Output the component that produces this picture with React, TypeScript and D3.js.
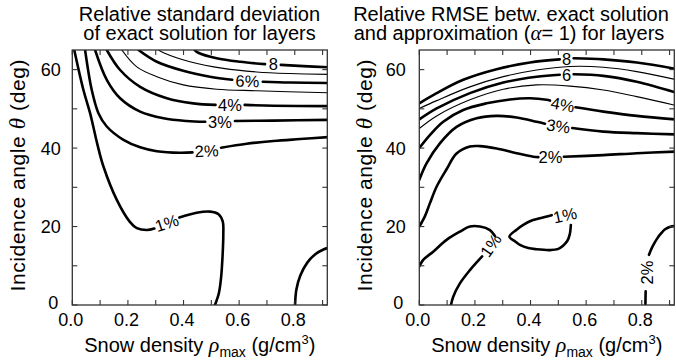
import React from "react";
import * as d3 from "d3";

type Pt = [number, number];

// ---- axes ----
const X_MAX = 0.917;
const Y_MAX = 65;
const xTickValues = [0, 0.1, 0.2, 0.3, 0.4, 0.5, 0.6, 0.7, 0.8, 0.9];
const xLabelValues = [0, 0.2, 0.4, 0.6, 0.8];
const yTickValues = [0, 10, 20, 30, 40, 50, 60];
const yLabelValues = [0, 20, 40, 60];

// ---- left panel contours [rho, theta] ----
const left1a: Pt[] = [[0.007, 65], [0.04, 54.8], [0.064, 48.9], [0.09, 41], [0.112, 35.3], [0.16, 26.8], [0.207, 21.2], [0.232, 19.6], [0.268, 19.1], [0.295, 19.5]];
const left1b: Pt[] = [[0.385, 22.3], [0.447, 23.5], [0.495, 23.8], [0.525, 23.2], [0.541, 21.3], [0.543, 18], [0.54, 12], [0.535, 7], [0.527, 3], [0.513, 0]];
const left1c: Pt[] = [[0.801, 0], [0.806, 4], [0.82, 7.5], [0.845, 10.8], [0.875, 13], [0.905, 14.2], [0.92, 14.6]];
const left2a: Pt[] = [[0.046, 65], [0.07, 54.8], [0.094, 48.9], [0.124, 45.5], [0.184, 42.1], [0.244, 40.2], [0.304, 39.2], [0.387, 38.8], [0.432, 38.9]];
const left2b: Pt[] = [[0.535, 40.1], [0.627, 41.1], [0.723, 41.8], [0.819, 42.3], [0.92, 42.8]];
const left3a: Pt[] = [[0.082, 65], [0.124, 57.4], [0.172, 52.7], [0.244, 49.3], [0.328, 47.6], [0.411, 46.9], [0.478, 46.7]];
const left3b: Pt[] = [[0.585, 46.9], [0.723, 47.0], [0.92, 47.2]];
const left4a: Pt[] = [[0.124, 65], [0.172, 59.9], [0.244, 55.6], [0.34, 52.7], [0.435, 51.4], [0.515, 51.0]];
const left4b: Pt[] = [[0.62, 51.0], [0.723, 50.8], [0.92, 50.7]];
const left5: Pt[] = [[0.178, 65], [0.232, 60.7], [0.304, 58.2], [0.399, 56.1], [0.519, 55.0], [0.663, 54.6], [0.92, 54.1]];
const left6a: Pt[] = [[0.238, 65], [0.304, 62.0], [0.399, 59.7], [0.495, 58.2], [0.575, 57.4]];
const left6b: Pt[] = [[0.685, 56.9], [0.783, 56.7], [0.92, 56.6]];
const left7: Pt[] = [[0.31, 65], [0.328, 64.3], [0.423, 62.0], [0.543, 60.3], [0.663, 59.4], [0.783, 59.0], [0.92, 58.8]];
const left8a: Pt[] = [[0.44, 65], [0.453, 64.3], [0.519, 62.9], [0.603, 62.0], [0.693, 61.4]];
const left8b: Pt[] = [[0.75, 61.2], [0.831, 60.9], [0.92, 60.6]];

// ---- right panel contours [rho, theta] ----
const right1a: Pt[] = [[0, 9.8], [0.014, 11.5], [0.05, 13.6], [0.098, 16.6], [0.146, 18.7], [0.182, 20.0], [0.218, 20.0], [0.254, 19.1], [0.272, 17.6]];
const right1b: Pt[] = [[0.226, 12.4], [0.182, 8.9], [0.146, 5.5], [0.122, 2.1], [0.114, 0]];
const right1loop: Pt[] = [[0.476, 22.9], [0.434, 22.1], [0.4, 21.4], [0.374, 20.4], [0.35, 19.2], [0.324, 17.4], [0.345, 16.2], [0.362, 15.3], [0.392, 14.5], [0.422, 14.2], [0.47, 14.0], [0.5, 14.3], [0.515, 15.0], [0.532, 16.3], [0.541, 18.0], [0.545, 20.4]];
const right2a: Pt[] = [[0, 20], [0.02, 22.6], [0.038, 25.9], [0.0625, 30.2], [0.098, 34.6], [0.134, 38.6], [0.182, 40.4], [0.218, 40.5], [0.278, 39.9], [0.35, 38.7], [0.41, 37.8], [0.428, 37.7]];
const right2b: Pt[] = [[0.52, 37.8], [0.662, 38.2], [0.782, 38.7], [0.92, 39.1]];
const right2c: Pt[] = [[0.813, 0], [0.814, 3.5]];
const right2d: Pt[] = [[0.826, 12.8], [0.838, 14.8], [0.854, 16.8], [0.87, 18.3], [0.884, 19.3], [0.9, 19.9], [0.92, 20.1]];
const right3a: Pt[] = [[0, 31.9], [0.026, 36.1], [0.074, 41.2], [0.134, 45.4], [0.206, 47.6], [0.278, 48.2], [0.35, 47.8], [0.422, 46.7], [0.452, 46.2]];
const right3b: Pt[] = [[0.55, 45.1], [0.662, 44.2], [0.782, 43.8], [0.92, 43.5]];
const right4a: Pt[] = [[0, 40.0], [0.038, 43.3], [0.086, 46.7], [0.158, 49.7], [0.242, 51.4], [0.326, 52.4], [0.398, 52.7], [0.458, 52.3], [0.47, 52.1]];
const right4b: Pt[] = [[0.562, 50.4], [0.662, 49.3], [0.782, 48.2], [0.92, 47.3]];
const right5: Pt[] = [[0, 45.0], [0.0625, 48.2], [0.182, 52.3], [0.302, 55.0], [0.422, 56.1], [0.542, 55.8], [0.662, 54.8], [0.782, 53.1], [0.92, 50.9]];
const right6a: Pt[] = [[0, 47.3], [0.0625, 50.1], [0.182, 54.0], [0.302, 56.7], [0.422, 58.2], [0.505, 58.7]];
const right6b: Pt[] = [[0.555, 58.8], [0.662, 58.4], [0.782, 56.9], [0.92, 54.2]];
const right7: Pt[] = [[0, 50.1], [0.0625, 52.1], [0.182, 55.6], [0.302, 58.2], [0.422, 59.9], [0.542, 60.8], [0.662, 60.6], [0.782, 59.5], [0.92, 57.5]];
const right8a: Pt[] = [[0, 51.4], [0.0625, 54.0], [0.158, 57.4], [0.278, 60.1], [0.398, 61.8], [0.505, 62.6]];
const right8b: Pt[] = [[0.555, 62.9], [0.662, 62.6], [0.782, 61.8], [0.92, 60.2]];

// ---- contour labels [text, rho, theta] ----
const leftLabelText = ["8", "6%", "4%", "3%", "2%", "1%"];
const leftLabelPos: Pt[] = [[0.723, 61.4], [0.63, 57.1], [0.567, 51.0], [0.531, 46.7], [0.483, 39.3], [0.34, 20.9]];
const rightLabelText = ["8", "6", "4%", "3%", "2%", "1%", "1%", "2%"];
const rightLabelPos: Pt[] = [[0.53, 62.7], [0.53, 58.7], [0.516, 51.1], [0.5, 45.6], [0.472, 37.6], [0.257, 15.2], [0.524, 22.9], [0.818, 8.3]];

type Seg = { pts: Pt[]; thick: boolean };
type Lab = { text: string; pos: Pt; rot: number };

const leftSegs: Seg[] = [
  { pts: left1a, thick: true }, { pts: left1b, thick: true }, { pts: left1c, thick: true },
  { pts: left2a, thick: true }, { pts: left2b, thick: true },
  { pts: left3a, thick: true }, { pts: left3b, thick: true },
  { pts: left4a, thick: true }, { pts: left4b, thick: true },
  { pts: left5, thick: false },
  { pts: left6a, thick: true }, { pts: left6b, thick: true },
  { pts: left7, thick: false },
  { pts: left8a, thick: true }, { pts: left8b, thick: true },
];
const rightSegs: Seg[] = [
  { pts: right1a, thick: true }, { pts: right1b, thick: true }, { pts: right1loop, thick: true },
  { pts: right2a, thick: true }, { pts: right2b, thick: true }, { pts: right2c, thick: true }, { pts: right2d, thick: true },
  { pts: right3a, thick: true }, { pts: right3b, thick: true },
  { pts: right4a, thick: true }, { pts: right4b, thick: true },
  { pts: right5, thick: false },
  { pts: right6a, thick: true }, { pts: right6b, thick: true },
  { pts: right7, thick: false },
  { pts: right8a, thick: true }, { pts: right8b, thick: true },
];
const leftRot = [0, 2, 0, 0, -3, -18];
const rightRot = [0, 0, 10, 8, 0, -55, -12, -90];
const leftLabels: Lab[] = leftLabelText.map((t, i) => ({ text: t, pos: leftLabelPos[i], rot: leftRot[i] }));
const rightLabels: Lab[] = rightLabelText.map((t, i) => ({ text: t, pos: rightLabelPos[i], rot: rightRot[i] }));

const SANS = "'Liberation Sans', Arial, Helvetica, sans-serif";
const SERIF = "'Liberation Serif', 'Times New Roman', serif";
const TOP = 50;
const BOTTOM = 305;
const W = 255;

function Panel({ x0, segs, labels, yLabOff, id }: { x0: number; segs: Seg[]; labels: Lab[]; yLabOff: number; id: string }) {
  const x = d3.scaleLinear().domain([0, X_MAX]).range([x0, x0 + W]);
  const y = d3.scaleLinear().domain([0, Y_MAX]).range([BOTTOM, TOP]);
  const line = d3
    .line<Pt>()
    .x((d) => x(d[0]))
    .y((d) => y(d[1]))
    .curve(d3.curveCatmullRom.alpha(0.5));
  const cx = x0 + W / 2;
  const tick = 5;
  return (
    <g>
      <defs>
        <clipPath id={id}>
          <rect x={x0} y={TOP} width={W} height={BOTTOM - TOP} />
        </clipPath>
      </defs>
      <g clipPath={`url(#${id})`}>
        {segs.map((s, i) => (
          <path key={i} d={line(s.pts) || ""} fill="none" stroke="#000" strokeWidth={s.thick ? 2.6 : 1.15} strokeLinecap="round" strokeLinejoin="round" />
        ))}
      </g>
      {labels.map((l, i) => {
        const lx = x(l.pos[0]);
        const ly = y(l.pos[1]);
        return (
          <text key={i} x={lx} y={ly} dy="0.36em" textAnchor="middle" fontSize={16.5} fontFamily={SANS} fill="#000" transform={`rotate(${l.rot},${lx},${ly})`}>
            {l.text}
          </text>
        );
      })}
      <rect x={x0} y={TOP} width={W} height={BOTTOM - TOP} fill="none" stroke="#333" strokeWidth={1.3} />
      {xTickValues.map((v) => (
        <g key={"xt" + v} stroke="#333" strokeWidth={1.1}>
          <line x1={x(v)} x2={x(v)} y1={BOTTOM} y2={BOTTOM - tick} />
          <line x1={x(v)} x2={x(v)} y1={TOP} y2={TOP + tick} />
        </g>
      ))}
      {yTickValues.map((v) => (
        <g key={"yt" + v} stroke="#333" strokeWidth={1.1}>
          <line x1={x0} x2={x0 + tick} y1={y(v)} y2={y(v)} />
          <line x1={x0 + W} x2={x0 + W - tick} y1={y(v)} y2={y(v)} />
        </g>
      ))}
      {xLabelValues.map((v) => (
        <text key={"xl" + v} x={x(v) - 1.5} y={326} textAnchor="middle" fontSize={18} fontFamily={SANS} fill="#000">
          {d3.format(".1f")(v)}
        </text>
      ))}
      {yLabelValues.map((v) => (
        <text key={"yl" + v} x={x0 - (v === 0 ? yLabOff + 2.5 : yLabOff)} y={v === 0 ? y(v) - 2.5 : y(v)} dy="0.36em" textAnchor="end" fontSize={18} fontFamily={SANS} fill="#000">
          {String(v)}
        </text>
      ))}
      <text x={cx} y={352} textAnchor="middle" fontSize={20} fontFamily={SANS} fill="#000">
        Snow density{" "}
        <tspan fontFamily={SERIF} fontStyle="italic" fontSize={22}>ρ</tspan>
        <tspan fontSize={14} dy={5}>max</tspan>
        <tspan dy={-5}> (g/cm</tspan>
        <tspan fontSize={13} dy={-8}>3</tspan>
        <tspan dy={8}>)</tspan>
      </text>
      <text
        transform={`translate(${x0 - 47.3},${(TOP + BOTTOM) / 2 - 2}) rotate(-90)`}
        textAnchor="middle"
        fontSize={21}
        fontFamily={SANS}
        fill="#000"
        textLength={232}
        lengthAdjust="spacing"
      >
        Incidence angle <tspan fontFamily={SERIF} fontStyle="italic" fontSize={23}>θ</tspan> (deg)
      </text>
    </g>
  );
}

export default function App() {
  return (
    <svg width={676} height={364} style={{ position: "absolute", left: 0, top: 0, background: "#fff" }}>
      <rect x={0} y={0} width={676} height={364} fill="#fff" />
      <text x={199.5} y={20.5} textAnchor="middle" fontSize={20} fontFamily={SANS} fill="#000">
        Relative standard deviation
      </text>
      <text x={199.5} y={40} textAnchor="middle" fontSize={20} fontFamily={SANS} fill="#000">
        of exact solution for layers
      </text>
      <text x={511} y={20.5} textAnchor="middle" fontSize={20} fontFamily={SANS} fill="#000">
        Relative RMSE betw. exact solution
      </text>
      <text x={509} y={40} textAnchor="middle" fontSize={20} fontFamily={SANS} fill="#000">
        and approximation (<tspan fontFamily={SERIF} fontStyle="italic" fontSize={21}>α</tspan>= 1) for layers
      </text>
      <Panel x0={72.3} segs={leftSegs} labels={leftLabels} yLabOff={11.6} id="clipL" />
      <Panel x0={419.3} segs={rightSegs} labels={rightLabels} yLabOff={13.6} id="clipR" />
    </svg>
  );
}
